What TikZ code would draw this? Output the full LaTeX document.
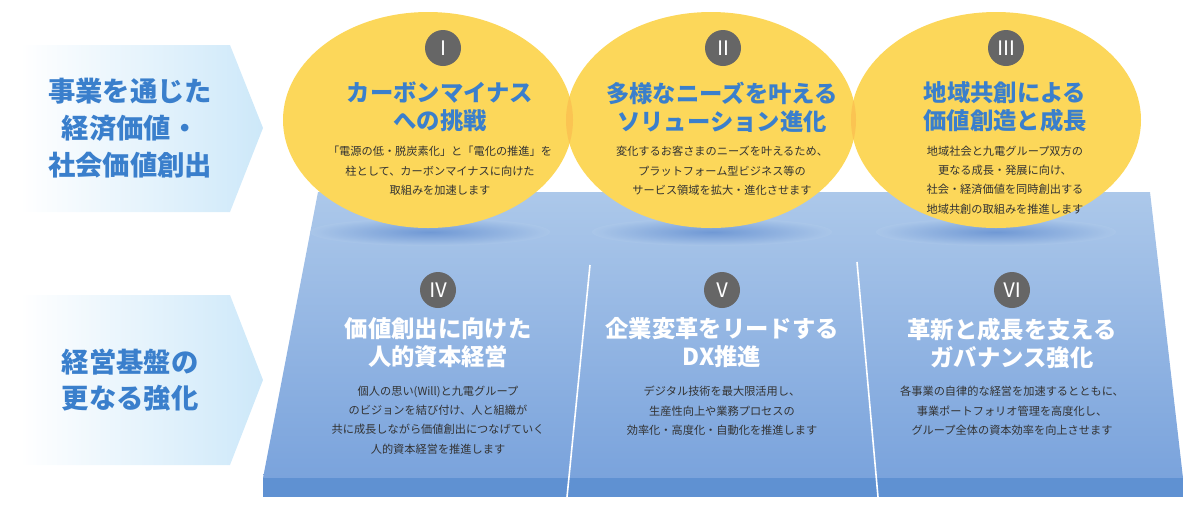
\documentclass[tikz,border=0pt]{standalone}
\usepackage{fontspec}
\setmainfont{Noto Sans CJK JP}
\usetikzlibrary{shapes.geometric}
\definecolor{ttl}{HTML}{3A7FCC}
\definecolor{yel}{HTML}{FCD75A}
\definecolor{ovl}{HTML}{FBC452}
\definecolor{lb}{HTML}{CDE8F9}
\definecolor{band}{HTML}{5F91D2}
\definecolor{num}{HTML}{666666}
\definecolor{bodyc}{HTML}{333333}
\begin{document}
\begin{tikzpicture}[x=0.75pt,y=-0.75pt,
  lefttxt/.style={font=\fontsize{20.5}{27.5}\selectfont\bfseries,text=ttl,align=center},
  ttltxt/.style={font=\fontsize{17.5}{21}\selectfont\bfseries,align=center},
  bodytxt/.style={font=\fontsize{8.4}{14.5}\selectfont,text=bodyc,align=center},
  numc/.style={circle,fill=num,minimum size=27pt,inner sep=0pt,text=white,font=\fontsize{15}{15}\selectfont}]
\useasboundingbox (0,0) rectangle (1195,504);
% left arrows
\shade[left color=white,right color=lb] (20,45) -- (230,45) -- (263,128) -- (230,212) -- (20,212) -- cycle;
\shade[left color=white,right color=lb] (20,295) -- (230,295) -- (263,380) -- (230,465) -- (20,465) -- cycle;
\node[lefttxt] (l1) at (130,128) {事業を通じた\\経済価値・\\社会価値創出};
\node[lefttxt] (l2) at (130,380) {経営基盤の\\更なる強化};
% trapezoid
\shade[top color={rgb,255:red,172;green,200;blue,234},bottom color={rgb,255:red,122;green,163;blue,220}]
  (318,192) -- (1150,192) -- (1183,478) -- (263,478) -- cycle;
\fill[band] (263,478) rectangle (1183,497);
\draw[white,line width=1.2pt] (590,265) -- (567,497);
\draw[white,line width=1.2pt] (857,262) -- (878,497);
% shadows
\foreach \cx in {430,712,996}{
  \shade[inner color={rgb,255:red,90;green,135;blue,205},outer color={rgb,255:red,172;green,200;blue,234},opacity=0.7] (\cx,232) ellipse (120 and 14);
}
% ellipses
\fill[yel] (428,120) ellipse (145 and 108);
\fill[yel] (711,120) ellipse (145 and 108);
\fill[yel] (996,120) ellipse (145 and 108);
\begin{scope}
\clip (428,120) ellipse (145 and 108);
\fill[ovl] (711,120) ellipse (145 and 108);
\end{scope}
\begin{scope}
\clip (711,120) ellipse (145 and 108);
\fill[ovl] (996,120) ellipse (145 and 108);
\end{scope}
% top items
\node[numc] (n1) at (443,48) {Ⅰ};
\node[numc] (n2) at (723,48) {Ⅱ};
\node[numc] (n3) at (1006,48) {Ⅲ};
\node[ttltxt,text=ttl] (t1) at (440,107) {カーボンマイナス\\への挑戦};
\node[ttltxt,text=ttl] (t2) at (722,107) {多様なニーズを叶える\\ソリューション進化};
\node[ttltxt,text=ttl] (t3) at (1005,107) {地域共創による\\価値創造と成長};
\node[bodytxt] (b1) at (440,171) {「電源の低・脱炭素化」と「電化の推進」を\\柱として、カーボンマイナスに向けた\\取組みを加速します};
\node[bodytxt] (b2) at (722,171) {変化するお客さまのニーズを叶えるため、\\プラットフォーム型ビジネス等の\\サービス領域を拡大・進化させます};
\node[bodytxt] (b3) at (1005,180) {地域社会と九電グループ双方の\\更なる成長・発展に向け、\\社会・経済価値を同時創出する\\地域共創の取組みを推進します};
% bottom items
\node[numc] (n4) at (438,290) {Ⅳ};
\node[numc] (n5) at (722,290) {Ⅴ};
\node[numc] (n6) at (1012,290) {Ⅵ};
\node[ttltxt,text=white] (t4) at (438,343) {価値創出に向けた\\人的資本経営};
\node[ttltxt,text=white] (t5) at (722,343) {企業変革をリードする\\DX推進};
\node[ttltxt,text=white] (t6) at (1012,343) {革新と成長を支える\\ガバナンス強化};
\node[bodytxt] (b4) at (438,420) {個人の思い(Will)と九電グループ\\のビジョンを結び付け、人と組織が\\共に成長しながら価値創出につなげていく\\人的資本経営を推進します};
\node[bodytxt] (b5) at (722,411) {デジタル技術を最大限活用し、\\生産性向上や業務プロセスの\\効率化・高度化・自動化を推進します};
\node[bodytxt] (b6) at (1012,411) {各事業の自律的な経営を加速するとともに、\\事業ポートフォリオ管理を高度化し、\\グループ全体の資本効率を向上させます};
\end{tikzpicture}
\end{document}
